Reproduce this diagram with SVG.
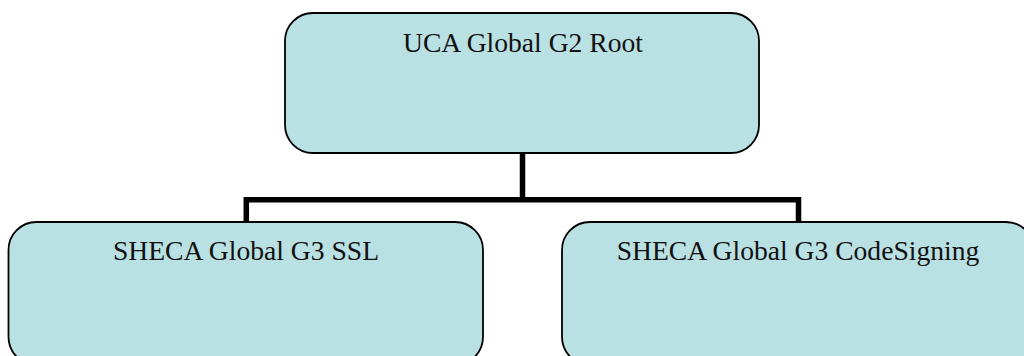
<svg xmlns="http://www.w3.org/2000/svg" width="1024" height="356" viewBox="0 0 1024 356">
<style>
.box{fill:#b9e0e3;stroke:#000;stroke-width:1.8}
.lbl{font-family:"Liberation Serif","Times New Roman",serif;font-size:27.6px;fill:#111;text-anchor:middle}
.conn{fill:none;stroke:#000;stroke-width:5.5;stroke-linejoin:miter}
</style>
<rect width="1024" height="356" fill="#fff"/>
<g id="connectors">
<path class="conn" d="M522.5,153 V199.7 M246.3,222 V199.7 H798.5 V222"/>
</g>
<g id="root">
<rect class="box" x="285" y="13" width="474" height="140" rx="28" ry="28"/>
<text class="lbl" x="523" y="52">UCA Global G2 Root</text>
</g>
<g id="ssl">
<rect class="box" x="8.5" y="222" width="474.5" height="143" rx="28" ry="28"/>
<text class="lbl" x="246" y="260">SHECA Global G3 SSL</text>
</g>
<g id="codesigning">
<rect class="box" x="562" y="222" width="472" height="143" rx="28" ry="28"/>
<text class="lbl" x="798" y="260">SHECA Global G3 CodeSigning</text>
</g>
</svg>
